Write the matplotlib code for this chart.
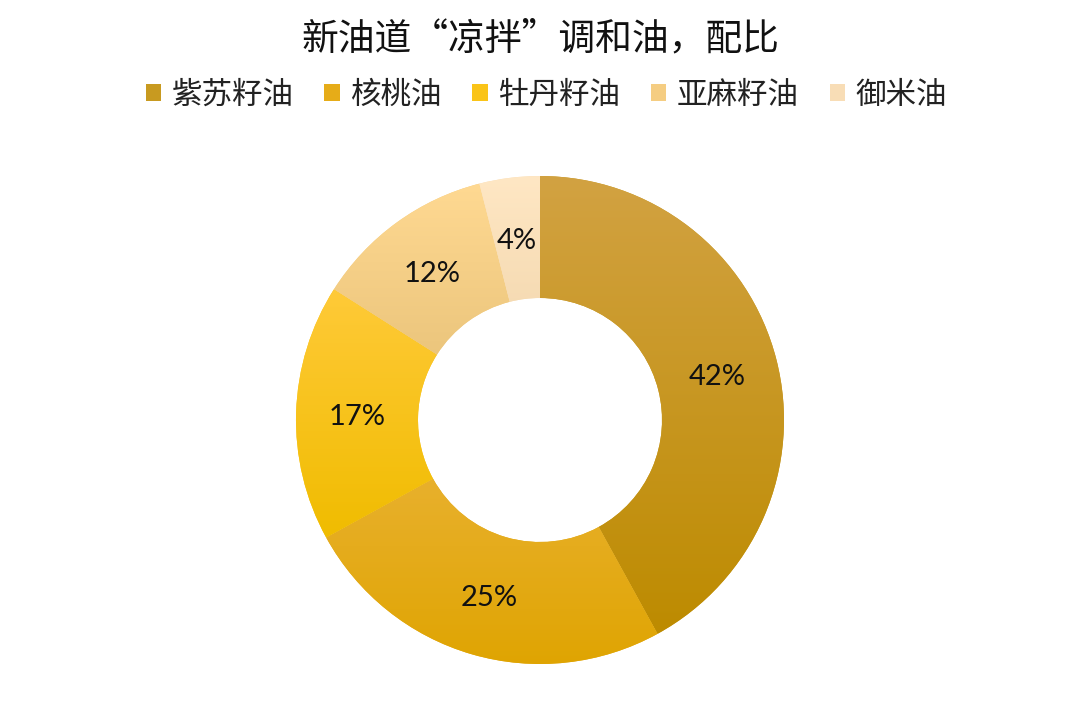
import matplotlib
matplotlib.use("Agg")
import matplotlib.pyplot as plt
import numpy as np
from matplotlib.patches import Patch
from matplotlib.colors import to_rgb

plt.rcParams['font.family'] = ['Noto Sans CJK SC', 'DejaVu Sans']

title = "新油道“凉拌”调和油，配比"
categories = ["紫苏籽油", "核桃油", "牡丹籽油", "亚麻籽油", "御米油"]
values = [42, 25, 17, 12, 4]
top_colors = ["#D2A242", "#EBB43A", "#FFCA38", "#FFD992", "#FFE7C4"]
bottom_colors = ["#BD8B00", "#DFA400", "#F0BC00", "#E4BE74", "#EDD0A4"]
legend_colors = ["#C89A20", "#E6AC18", "#FAC418", "#F5CD82", "#F8DDB6"]

fig = plt.figure(figsize=(10.8, 7.2), dpi=100)
ax = fig.add_axes([296/1080, 56/720, 488/1080, 488/720])

wedges, texts, autotexts = ax.pie(
    values, startangle=90, counterclock=False, radius=1.0,
    colors=legend_colors, autopct=lambda p: f"{p:.0f}%", pctdistance=0.75,
    wedgeprops=dict(width=0.5, edgecolor='none', linewidth=0),
    textprops=dict(fontsize=21, family=['Lato', 'DejaVu Sans'], color='#111111'))

# vertical gradient inside each wedge
for w, tc, bc in zip(wedges, top_colors, bottom_colors):
    verts = w.get_path().vertices
    x0, x1 = verts[:, 0].min(), verts[:, 0].max()
    y0, y1 = verts[:, 1].min(), verts[:, 1].max()
    t = np.linspace(0, 1, 256)[:, None]
    c0 = np.array(to_rgb(bc)); c1 = np.array(to_rgb(tc))
    img = (c0[None, :] * (1 - t) + c1[None, :] * t)[:, None, :]
    im = ax.imshow(img, extent=[x0, x1, y0, y1], origin='lower',
                   aspect='auto', zorder=w.get_zorder() + 0.1,
                   interpolation='bilinear')
    im.set_clip_path(w)
for at in autotexts:
    at.set_zorder(5)
    at.set_va('center_baseline')

ax.set_xlim(-1, 1)
ax.set_ylim(-1, 1)
ax.set_aspect('equal')
ax.axis('off')

fig.text(0.5, 1 - 39/720, title, ha='center', va='center', fontsize=26.5, color='#111111')

handles = [Patch(facecolor=c, edgecolor='none') for c in legend_colors]
fig.legend(handles, categories, loc='center', bbox_to_anchor=(0.506, 1 - 95/720),
           ncol=5, frameon=False, fontsize=22, handlelength=0.5, handleheight=0.5,
           handletextpad=0.35, columnspacing=1.0, labelcolor='#222222')

fig.savefig("out.png", dpi=100, facecolor='white')
